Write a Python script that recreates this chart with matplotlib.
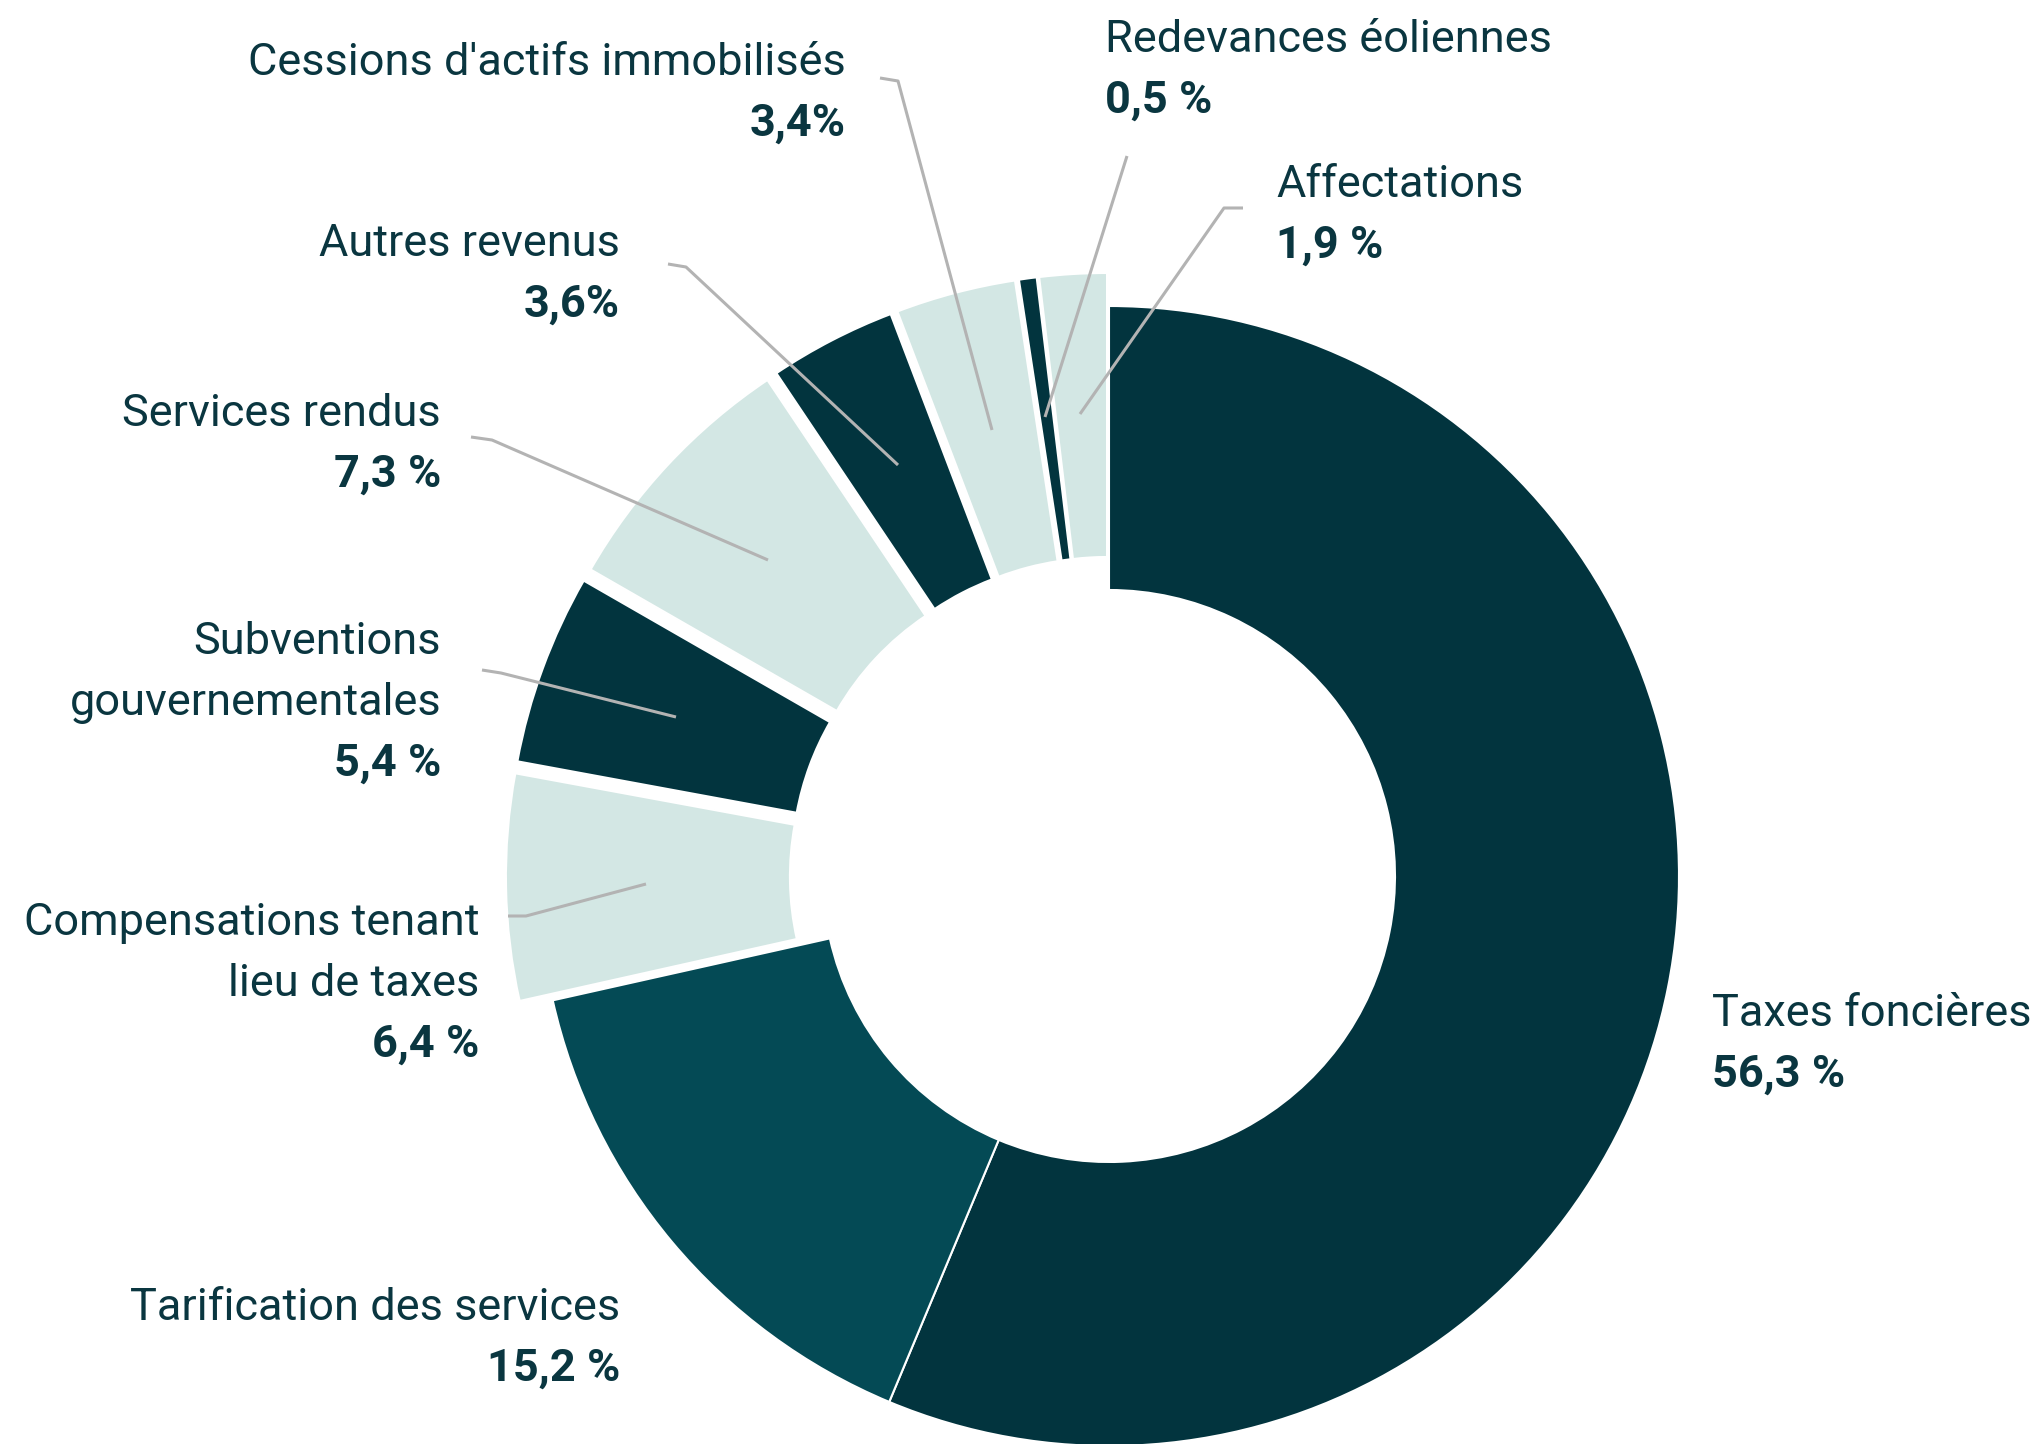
import numpy as np
import matplotlib.pyplot as plt

# data
categories = ['Taxes foncières', 'Tarification des services',
              'Compensations tenant\nlieu de taxes', 'Subventions\ngouvernementales',
              'Services rendus', 'Autres revenus', "Cessions d'actifs immobilisés",
              'Redevances éoliennes', 'Affectations']
shares = [56.3, 15.2, 6.4, 5.4, 7.3, 3.6, 3.4, 0.5, 1.9]
pct_labels = ['56,3 %', '15,2 %', '6,4 %', '5,4 %', '7,3 %', '3,6%', '3,4%', '0,5 %', '1,9 %']

dark = '#02343e'
mid = '#044a55'
light = '#d3e7e4'
txt = '#0a3640'
grey = '#b3b3b3'
colors = [dark, mid, light, dark, light, dark, light, dark, light]
explode_frac = [0, 0, 0.058, 0.058, 0.058, 0.058, 0.058, 0.058, 0.058]

plt.rcParams['font.family'] = ['Roboto', 'DejaVu Sans']

fig = plt.figure(figsize=(20.41, 14.44), dpi=100)
ax = fig.add_axes([0, 0, 1, 1])

# pixel coords, y axis pointing down
cx, cy = 1109, 876
r_out, r_in = 570, 286
# pie explode is in data units, so scale by radius
explode = [e * r_out for e in explode_frac]
ax.pie(shares, colors=colors, explode=explode, startangle=-90, counterclock=True,
       radius=r_out, center=(cx, cy),
       wedgeprops=dict(width=r_out - r_in, edgecolor='white', linewidth=1.5))
ax.set_xlim(0, 2041)
ax.set_ylim(1444, 0)
ax.set_aspect('equal')
ax.axis('off')

fs = 32.5
dy = 61
# label anchor (x, y of first line centre, ha)
label_pos = [(1712, 1010, 'left'), (620, 1304, 'right'), (479, 919, 'right'),
             (441, 638, 'right'), (441, 410, 'right'), (620, 240, 'right'),
             (846, 59, 'right'), (1105, 36, 'left'), (1276, 181, 'left')]

for name, pct, (x, y, ha) in zip(categories, pct_labels, label_pos):
    lines = name.split('\n')
    for i, ln in enumerate(lines):
        ax.text(x, y + i * dy + 16, ln, fontsize=fs, color=txt, ha=ha, va='baseline')
    ax.text(x, y + len(lines) * dy + 16, pct, fontsize=fs, color=txt, ha=ha,
            va='baseline', fontweight='bold')

# leader lines
leaders = [
    [(880, 78), (898, 81), (992, 430)],
    [(1127, 156), (1045, 417)],
    [(1243, 208), (1224, 208), (1080, 414)],
    [(668, 264), (686, 267), (898, 465)],
    [(471, 437), (492, 440), (768, 560)],
    [(482, 670), (501, 673), (676, 717)],
    [(508, 916), (526, 916), (646, 884)],
]
for pts in leaders:
    xs, ys = zip(*pts)
    ax.plot(xs, ys, color=grey, lw=2.2, solid_capstyle='butt')

plt.savefig('out.png', dpi=100, facecolor='white')
